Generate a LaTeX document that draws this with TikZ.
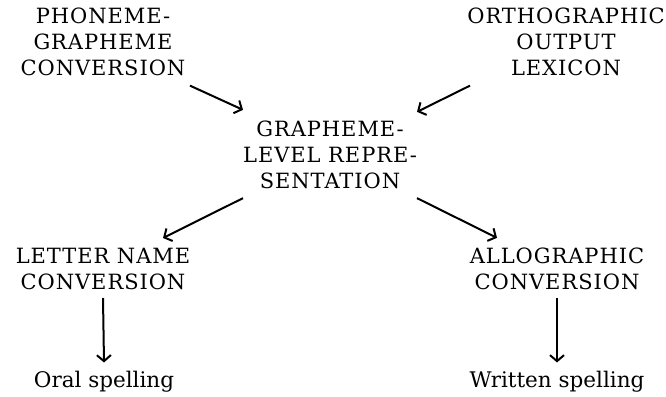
\documentclass[tikz,border=0pt]{standalone}
\usepackage{fontspec}
\setmainfont{DejaVu Serif}
\newfontfamily\capsfont[LetterSpace=4.5]{DejaVu Serif}
\usetikzlibrary{arrows.meta,positioning}
\tikzset{
  basic/.style  = {inner sep=6pt, text=black},
  stage/.style  = {basic, align=center, font=\capsfont\fontsize{21}{26}\selectfont},
  output/.style = {basic, font=\fontsize{21.5}{26}\selectfont},
  flow/.style   = {->, line width=2pt}
}

\begin{document}
\begin{tikzpicture}[x=1pt, y=-1pt, >={Straight Barb[length=6pt,width=14pt]}]
\useasboundingbox (0,0) rectangle (666,396);

% the two sources at the top
\node[stage] (pgc) at (103,41.5) {PHONEME-\\GRAPHEME\\CONVERSION};
\node[stage] (ool) at (566,41.5) {ORTHOGRAPHIC\\OUTPUT\\LEXICON};
% the buffer in the middle
\node[stage] (glr) at (330,155) {GRAPHEME-\\LEVEL REPRE-\\SENTATION};
% the two conversions below it
\node[stage] (lnc) at (103,269) {LETTER NAME\\CONVERSION};
\node[stage] (anc) at (557,269) {ALLOGRAPHIC\\CONVERSION};
% what comes out
\node[output, anchor=base] (oral) at (104,387) {Oral spelling};
\node[output, anchor=base] (written) at (557,387) {Written spelling};

\draw[flow] ([xshift=87pt,yshift=-4pt]pgc.south) -- ([xshift=-87pt,yshift=5pt]glr.north);
\draw[flow] ([xshift=-96pt,yshift=-4pt]ool.south) -- ([xshift=87pt,yshift=3pt]glr.north);
\draw[flow] ([xshift=-87pt,yshift=-3pt]glr.south) -- ([xshift=60pt,yshift=4pt]lnc.north);
\draw[flow] ([xshift=87pt,yshift=-3pt]glr.south) -- ([xshift=-60pt,yshift=4pt]anc.north);
\draw[flow] ([yshift=-2pt]lnc.south) -- ([yshift=2pt]oral.north);
\draw[flow] ([yshift=-2pt]anc.south) -- ([yshift=2pt]written.north);

\end{tikzpicture}
\end{document}
